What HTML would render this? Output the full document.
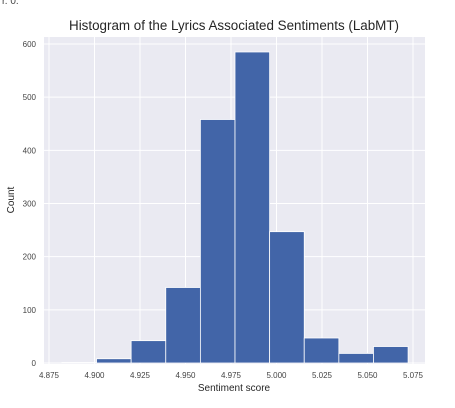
<!DOCTYPE html>
<html><head><meta charset="utf-8"><style>
body{margin:0;background:#fff;width:455px;height:403px;overflow:hidden;font-family:"Liberation Sans",sans-serif}
</style></head><body>
<svg id="chart" width="455" height="403" xmlns="http://www.w3.org/2000/svg">
<text x="2" y="4" font-size="10" fill="#444">r. 0.</text>
<rect x="44" y="37" width="381" height="327" fill="#eaeaf2"/>
<g id="grid"></g><g id="bars"></g><g id="ticks"></g>
<text x="234" y="30" font-size="13.4" text-anchor="middle" fill="#262626">Histogram of the Lyrics Associated Sentiments (LabMT)</text>
<text x="234" y="391" font-size="10" text-anchor="middle" fill="#262626">Sentiment score</text>
<text x="14" y="200" font-size="10" text-anchor="middle" fill="#262626" transform="rotate(-90 14 200)">Count</text>
</svg>
<script>
const binStart = 4.8821;
const binWidth = 0.01902;
const counts = [1, 8, 42, 142, 458, 585, 247, 47, 18, 31];
const xTicks = [4.875, 4.900, 4.925, 4.950, 4.975, 5.000, 5.025, 5.050, 5.075];
const yTicks = [0, 100, 200, 300, 400, 500, 600];
const NS = "http://www.w3.org/2000/svg";
function sx(v){return 49 + (v - 4.875) / 0.2 * 364;}
function sy(v){return 363 - v / 600 * 319;}
function mk(tag, attrs, parent){const e=document.createElementNS(NS,tag);for(const k in attrs)e.setAttribute(k,attrs[k]);document.getElementById(parent).appendChild(e);return e;}
xTicks.forEach(t=>{
  const l=mk('line',{x1:sx(t),x2:sx(t),y1:37,y2:364,stroke:'#fff','stroke-width':1},'grid');
  
  
  const tx=mk('text',{x:sx(t),y:378,'font-size':8,'text-anchor':'middle',fill:'#444'},'ticks');
  tx.textContent=t.toFixed(3);
  
  
});
yTicks.forEach(t=>{
  const l=mk('line',{x1:44,x2:425,y1:sy(t),y2:sy(t),stroke:'#fff','stroke-width':1},'grid');
  
  
  const tx=mk('text',{x:36,y:sy(t)+3,'font-size':8,'text-anchor':'end',fill:'#444'},'ticks');
  tx.textContent=t;
  
  
});
counts.forEach((c,i)=>{
  const x0=sx(binStart+i*binWidth), x1=sx(binStart+(i+1)*binWidth);
  const r=mk('rect',{x:x0,y:sy(c),width:x1-x0,height:sy(0)-sy(c),fill:'#4265a8',stroke:'#fff','stroke-width':0.8},'bars');
  
  
});
</script>
</body></html>
